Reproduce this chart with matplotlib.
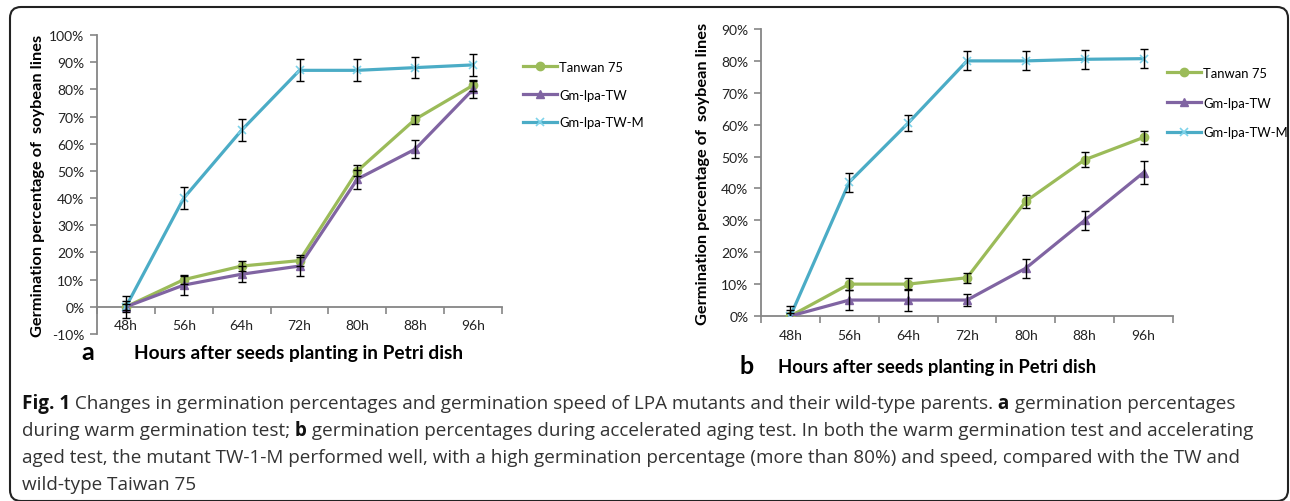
import matplotlib
matplotlib.use('Agg')
import matplotlib.pyplot as plt
import matplotlib.patches as mpatches
from matplotlib.ticker import FixedLocator, PercentFormatter

plt.rcParams['font.family'] = ['Lato', 'DejaVu Sans']
plt.rcParams['axes.unicode_minus'] = False

# data
hours = ['48h', '56h', '64h', '72h', '80h', '88h', '96h']
series_names = ['Tanwan 75', 'Gm-lpa-TW', 'Gm-lpa-TW-M']

# panel a: warm germination test
a_tanwan = [0, 10, 15, 17, 50, 69, 81.5]
a_tanwan_err = [1, 1.6, 2, 2, 2, 1.7, 2]
a_tw = [0, 8, 12, 15, 47, 58, 80]
a_tw_err = [2, 3.5, 3, 3.5, 3.5, 3.3, 3.2]
a_twm = [0, 40, 65, 87, 87, 88, 89]
a_twm_err = [4, 4, 4, 4, 4, 4, 4]

# panel b: accelerated aging test
b_tanwan = [0, 10, 10, 12, 36, 49, 56]
b_tanwan_err = [1, 2, 2, 1.5, 2, 2.3, 2]
b_tw = [0, 5, 5, 5, 15, 30, 45]
b_tw_err = [2, 3, 3.5, 2, 3, 3, 3.5]
b_twm = [0, 42, 60.5, 80, 80, 80.5, 80.7]
b_twm_err = [3, 3, 2.5, 3, 3, 3, 3]

green = '#9BBB59'
purple = '#8064A2'
blue = '#4BACC6'
axis_grey = '#868686'

W, H = 1290, 502
fig = plt.figure(figsize=(W / 100, H / 100), dpi=100)

# rounded frame around everything
frame = mpatches.FancyBboxPatch((10, 0), 1278, 494, boxstyle='round,pad=0,rounding_size=11',
                                transform=None, fill=False, edgecolor='#222222', linewidth=1.5)
fig.patches.append(frame)


def px(x, y):
    return x / W, 1 - y / H


def draw_panel(rect, vals, ylim, yticks, leg_xy, spacing):
    ax = fig.add_axes(rect)
    green_v, green_e, purple_v, purple_e, blue_v, blue_e = vals
    ax.plot(hours, green_v, color=green, lw=2.3, marker='o', ms=6, label=series_names[0], zorder=3)
    ax.plot(hours, purple_v, color=purple, lw=2.3, marker='^', ms=6, label=series_names[1], zorder=3)
    ax.plot(hours, blue_v, color=blue, lw=2.3, marker='x', ms=6, mew=1.2, mec='#7ED3EA',
            label=series_names[2], zorder=3)
    for v, e in [(green_v, green_e), (purple_v, purple_e), (blue_v, blue_e)]:
        ax.errorbar(hours, v, yerr=e, fmt='none', ecolor='black', elinewidth=1,
                    capsize=3, capthick=1, zorder=4)
    ax.set_xlim(-0.5, len(hours) - 0.5)
    ax.set_ylim(*ylim)
    ax.set_yticks(yticks)
    ax.yaxis.set_major_formatter(PercentFormatter(decimals=0))
    for s in ['top', 'right']:
        ax.spines[s].set_visible(False)
    ax.spines['bottom'].set_position(('data', 0))
    for s in ['left', 'bottom']:
        ax.spines[s].set_color(axis_grey)
        ax.spines[s].set_linewidth(1.3)
    ax.xaxis.set_minor_locator(FixedLocator([i - 0.5 for i in range(len(hours) + 1)]))
    ax.tick_params(axis='x', which='major', length=0, pad=9, labelsize=10, colors='#222222')
    ax.tick_params(axis='x', which='minor', length=5, color=axis_grey, width=1.2, direction='out')
    ax.tick_params(axis='y', length=5, color=axis_grey, width=1.2, labelsize=10,
                   labelcolor='#222222', pad=4)
    ax.set_ylabel('Germination percentage of  soybean lines', fontsize=11.8, fontweight='bold')
    ax.legend(loc='upper left', bbox_to_anchor=px(*leg_xy), bbox_transform=fig.transFigure,
              frameon=False, fontsize=9.4, borderpad=0, borderaxespad=0,
              handlelength=2.6, handletextpad=0.15, labelspacing=spacing)
    return ax


ax_a = draw_panel([97 / W, 1 - 335 / H, 405 / W, 299 / H],
                  (a_tanwan, a_tanwan_err, a_tw, a_tw_err, a_twm, a_twm_err),
                  (-10, 100), range(-10, 101, 10), (523, 62), 1.2)
ax_a.yaxis.set_label_coords(-0.128, 0.5)

ax_b = draw_panel([761 / W, 1 - 317 / H, 412 / W, 287 / H],
                  (b_tanwan, b_tanwan_err, b_tw, b_tw_err, b_twm, b_twm_err),
                  (0, 90), range(0, 91, 10), (1167, 68), 1.35)
ax_b.yaxis.set_label_coords(-0.124, 0.5)

# axis titles and panel letters
fig.text(*px(88, 353), 'a', fontsize=18, fontweight='bold', ha='center', va='center')
fig.text(*px(299, 353), 'Hours after seeds planting in Petri dish', fontsize=13.8,
         fontweight='bold', ha='center', va='center')
fig.text(*px(747, 367), 'b', fontsize=18, fontweight='bold', ha='center', va='center')
fig.text(*px(937, 367), 'Hours after seeds planting in Petri dish', fontsize=13.2,
         fontweight='bold', ha='center', va='center')

# caption: bold pieces placed one after another on each line
cap_font = ['Open Sans', 'DejaVu Sans']
caption = [
    [('Fig. 1', True), (' Changes in germination percentages and germination speed of LPA mutants and their wild-type parents.', False),
     (' a', True), (' germination percentages', False)],
    [('during warm germination test;', False), (' b', True),
     (' germination percentages during accelerated aging test. In both the warm germination test and accelerating', False)],
    [('aged test, the mutant TW-1-M performed well, with a high germination percentage (more than 80%) and speed, compared with the TW and', False)],
    [('wild-type Taiwan 75', False)],
]
line_base = [409, 436, 463, 490]
renderer = fig.canvas.get_renderer()
for parts, yy in zip(caption, line_base):
    x = 22
    for txt, bold in parts:
        t = fig.text(*px(x, yy), txt, fontsize=13.6, family=cap_font,
                     color='#111111' if bold else '#333333',
                     fontweight='bold' if bold else 'normal', va='baseline', ha='left')
        x += t.get_window_extent(renderer).width

fig.savefig('out.png', dpi=100)
